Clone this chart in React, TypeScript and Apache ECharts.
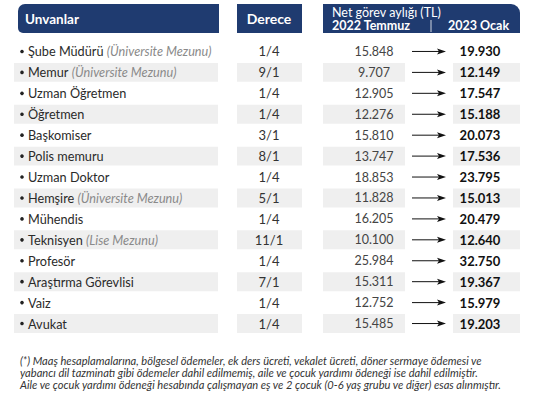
import React, { useEffect, useRef } from "react";
import * as echarts from "echarts";

const titles = ["Şube Müdürü", "Memur", "Uzman Öğretmen", "Öğretmen", "Başkomiser", "Polis memuru", "Uzman Doktor", "Hemşire", "Mühendis", "Teknisyen", "Profesör", "Araştırma Görevlisi", "Vaiz", "Avukat"];
const titleNotes = ["Üniversite Mezunu", "Üniversite Mezunu", "", "", "", "", "", "Üniversite Mezunu", "", "Lise Mezunu", "", "", "", ""];
const grades = ["1/4", "9/1", "1/4", "1/4", "3/1", "8/1", "1/4", "5/1", "1/4", "11/1", "1/4", "7/1", "1/4", "1/4"];
const salary2022 = [15848, 9707, 12905, 12276, 15810, 13747, 18853, 11828, 16205, 10100, 25984, 15311, 12752, 15485];
const salary2023 = [19930, 12149, 17547, 15188, 20073, 17536, 23795, 15013, 20479, 12640, 32750, 19367, 15979, 19203];

const headerLabels = ["Unvanlar", "Derece", "Net görev aylığı (TL)", "2022 Temmuz", "2023 Ocak"];
const footnoteLines = [
  "(*) Maaş hesaplamalarına, bölgesel ödemeler, ek ders ücreti, vekalet ücreti, döner sermaye ödemesi ve",
  "yabancı dil tazminatı gibi ödemeler dahil edilmemiş, aile ve çocuk yardımı ödeneği ise dahil edilmiştir.",
  "Aile ve çocuk yardımı ödeneği hesabında çalışmayan eş ve 2 çocuk (0-6 yaş grubu ve diğer) esas alınmıştır.",
];

const fmt = (n: number) => String(n).replace(/\B(?=(\d{3})+(?!\d))/g, ".");

const NAVY = "#1f3b70";
const STRIPE = "#efefef";
const FONT = "Lato, 'Noto Sans', sans-serif";

export default function App() {
  const ref = useRef<HTMLDivElement>(null);
  useEffect(() => {
    document.body.style.margin = "0";
    const chart = echarts.init(ref.current!, null, { renderer: "svg" });
    const option: any = {
      animation: false,
      backgroundColor: "#ffffff",
      grid: { left: 0, right: 0, top: 41, height: 293 },
      xAxis: { type: "value", min: 0, max: 550, show: false },
      yAxis: { type: "category", data: titles, inverse: true, show: false },
      series: [
        {
          type: "custom",
          clip: false,
          data: titles.map((_, i) => [0, i]),
          renderItem: (params: any, api: any) => {
            const i = params.dataIndex;
            const cy = api.coord([0, i])[1];
            const band = api.size([0, 1])[1];
            const sh = band - 2;
            const children: any[] = [];
            if (i % 2 === 1) {
              const st = { fill: STRIPE };
              children.push({ type: "rect", shape: { x: 14, y: cy - sh / 2, width: 204, height: sh }, style: st });
              children.push({ type: "rect", shape: { x: 237, y: cy - sh / 2, width: 65, height: sh }, style: st });
              children.push({ type: "rect", shape: { x: 323, y: cy - sh / 2, width: 82, height: sh }, style: st });
              children.push({ type: "rect", shape: { x: 453, y: cy - sh / 2, width: 67, height: sh }, style: st });
            }
            children.push({ type: "circle", shape: { cx: 22, cy: cy, r: 1.8 }, style: { fill: "#222" } });
            const note = titleNotes[i];
            children.push({
              type: "text",
              style: {
                text: note ? `{n|${titles[i]}} {i|(${note})}` : `{n|${titles[i]}}`,
                x: 28,
                y: cy,
                align: "left",
                verticalAlign: "middle",
                rich: {
                  n: { fontFamily: FONT, fontSize: 12.7, fill: "#2a2a2a", color: "#2a2a2a" },
                  i: { fontFamily: FONT, fontSize: 12.7, fontStyle: "italic", fill: "#8a8a8a", color: "#8a8a8a" },
                },
              },
            });
            children.push({
              type: "text",
              style: { text: grades[i], x: 269, y: cy, align: "center", verticalAlign: "middle", fontFamily: FONT, fontSize: 13, fill: "#333" },
            });
            children.push({
              type: "text",
              style: { text: fmt(salary2022[i]), x: 374, y: cy, align: "center", verticalAlign: "middle", fontFamily: FONT, fontSize: 12.5, fill: "#444" },
            });
            children.push({ type: "line", shape: { x1: 412, y1: cy, x2: 440, y2: cy }, style: { stroke: "#111", lineWidth: 1 } });
            children.push({
              type: "polygon",
              shape: { points: [[437, cy - 3], [446, cy], [437, cy + 3], [439, cy]] },
              style: { fill: "#111" },
            });
            children.push({
              type: "text",
              style: { text: fmt(salary2023[i]), x: 480, y: cy, align: "center", verticalAlign: "middle", fontFamily: FONT, fontSize: 13, fontWeight: "bold", fill: "#111" },
            });
            return { type: "group", children };
          },
        },
      ],
      graphic: [
        { type: "rect", shape: { x: 18, y: 4, width: 201, height: 29, r: [7, 0, 0, 5] }, style: { fill: NAVY } },
        { type: "rect", shape: { x: 237, y: 4, width: 65, height: 29, r: 0 }, style: { fill: NAVY } },
        { type: "rect", shape: { x: 323, y: 4, width: 197, height: 29, r: [0, 9, 0, 0] }, style: { fill: NAVY } },
        { type: "text", style: { text: headerLabels[0], x: 25, y: 18.5, verticalAlign: "middle", fontFamily: FONT, fontSize: 13.5, fontWeight: "bold", fill: "#fff" } },
        { type: "text", style: { text: headerLabels[1], x: 269, y: 18.5, align: "center", verticalAlign: "middle", fontFamily: FONT, fontSize: 14, fontWeight: "bold", fill: "#fff" } },
        { type: "text", style: { text: headerLabels[2], x: 332, y: 12, verticalAlign: "middle", fontFamily: FONT, fontSize: 12.5, fill: "#fff" } },
        { type: "text", style: { text: headerLabels[3], x: 332, y: 25.5, verticalAlign: "middle", fontFamily: FONT, fontSize: 12.5, fontWeight: "bold", fill: "#fff" } },
        { type: "line", shape: { x1: 431, y1: 20, x2: 431, y2: 32 }, style: { stroke: "#fff", lineWidth: 0.8 } },
        { type: "text", style: { text: headerLabels[4], x: 448, y: 25.5, verticalAlign: "middle", fontFamily: FONT, fontSize: 12.5, fontWeight: "bold", fill: "#fff" } },
        ...footnoteLines.map((t, k) => ({
          type: "text",
          style: { text: t, x: 20, y: 360 + k * 12, verticalAlign: "middle", fontFamily: FONT, fontSize: 11.1, fontStyle: "italic", fill: "#333" },
        })),
      ],
    };
    chart.setOption(option);
    return () => chart.dispose();
  }, []);
  return <div ref={ref} style={{ width: 550, height: 405 }} />;
}
